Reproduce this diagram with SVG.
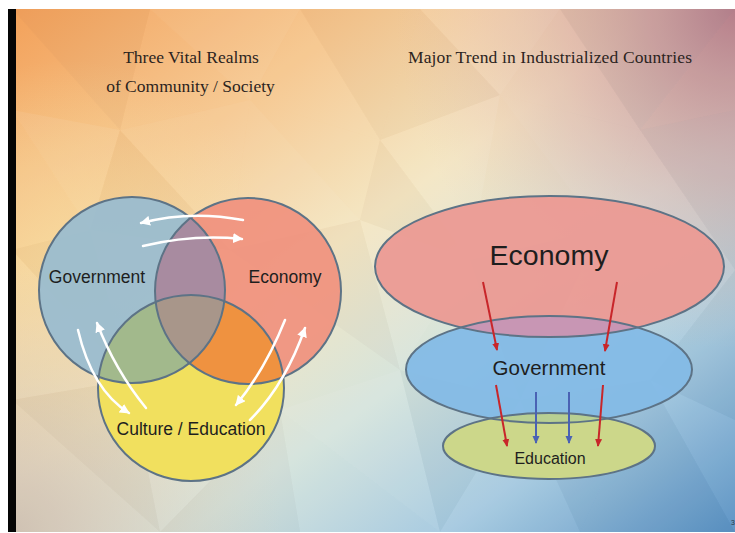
<svg xmlns="http://www.w3.org/2000/svg" width="735" height="533" viewBox="0 0 735 533">
  <style>
    .title { font-family: "Liberation Serif", "DejaVu Serif", serif; font-size: 17.5px; fill: #2c241e; text-anchor: middle; }
    .lbl { font-family: "Liberation Sans", Arial, sans-serif; fill: #1e1e1e; text-anchor: middle; }
    .outline { fill: none; stroke: #5d7386; stroke-width: 2; }
    .w-arrow { fill: none; stroke: #ffffff; stroke-width: 2.5; stroke-linecap: round; marker-end: url(#headWhite); }
    .r-arrow { fill: none; stroke: #c8262a; stroke-width: 2; marker-end: url(#headRed); }
    .b-arrow { fill: none; stroke: #4a62b4; stroke-width: 2; marker-end: url(#headBlue); }
    .f1 { fill: #ffffff; opacity: 0.07; }
    .f2 { fill: #ffffff; opacity: 0.035; }
    .f3 { fill: #5a3a30; opacity: 0.03; }
    .f4 { fill: #2a3a5a; opacity: 0.045; }
  </style>
  <defs>
    <linearGradient id="bgBase" x1="0" y1="0" x2="1" y2="1">
      <stop offset="0" stop-color="#f3a15a"/>
      <stop offset="0.25" stop-color="#f6c890"/>
      <stop offset="0.45" stop-color="#f4e6c2"/>
      <stop offset="0.62" stop-color="#d6e4dc"/>
      <stop offset="0.8" stop-color="#a6cae0"/>
      <stop offset="1" stop-color="#5a92c4"/>
    </linearGradient>
    <radialGradient id="bgMauve" cx="735" cy="9" r="340" gradientUnits="userSpaceOnUse">
      <stop offset="0" stop-color="#b67c8a" stop-opacity="0.95"/>
      <stop offset="0.5" stop-color="#d4a0a0" stop-opacity="0.55"/>
      <stop offset="1" stop-color="#e8c0b0" stop-opacity="0"/>
    </radialGradient>
    <radialGradient id="bgYellow" cx="70" cy="270" r="210" gradientUnits="userSpaceOnUse">
      <stop offset="0" stop-color="#f7dc9c" stop-opacity="0.75"/>
      <stop offset="1" stop-color="#f7dc9c" stop-opacity="0"/>
    </radialGradient>
    <radialGradient id="bgBeige" cx="12" cy="532" r="270" gradientUnits="userSpaceOnUse">
      <stop offset="0" stop-color="#cbbbae" stop-opacity="0.9"/>
      <stop offset="1" stop-color="#d8d0c0" stop-opacity="0"/>
    </radialGradient>

    <marker id="headWhite" markerUnits="userSpaceOnUse" markerWidth="12" markerHeight="10" refX="9" refY="5" orient="auto">
      <path d="M0,0 L10,5 L0,10 Z" fill="#ffffff"/>
    </marker>
    <marker id="headRed" markerUnits="userSpaceOnUse" markerWidth="10" markerHeight="8" refX="7" refY="4" orient="auto">
      <path d="M0,0.5 L8,4 L0,7.5 Z" fill="#c8262a"/>
    </marker>
    <marker id="headBlue" markerUnits="userSpaceOnUse" markerWidth="10" markerHeight="8" refX="7" refY="4" orient="auto">
      <path d="M0,0.5 L8,4 L0,7.5 Z" fill="#4a62b4"/>
    </marker>

    <!-- Venn circle clips -->
    <clipPath id="clipGov"><circle cx="132" cy="290" r="93"/></clipPath>
    <clipPath id="clipEco"><circle cx="248" cy="291" r="93"/></clipPath>
    <clipPath id="clipGovEco" clip-path="url(#clipGov)"><circle cx="248" cy="291" r="93"/></clipPath>

    <!-- stacked ellipse clips -->
    <clipPath id="clipEcoE"><ellipse cx="549.5" cy="266.5" rx="174.5" ry="70.5"/></clipPath>
    <clipPath id="clipGovE"><ellipse cx="549" cy="369.5" rx="143" ry="53.5"/></clipPath>
  </defs>

  <!-- page -->
  <rect x="0" y="0" width="735" height="533" fill="#ffffff"/>

  <!-- slide background: low-poly wash -->
  <g id="background">
    <rect x="12" y="9" width="723" height="523" fill="url(#bgBase)"/>
    <rect x="12" y="9" width="723" height="523" fill="url(#bgYellow)"/>
    <rect x="12" y="9" width="723" height="523" fill="url(#bgMauve)"/>
    <rect x="12" y="9" width="723" height="523" fill="url(#bgBeige)"/>
    <polygon class="f3" points="12,9 150,9 120,130"/>
    <polygon class="f1" points="150,9 300,9 250,100"/>
    <polygon class="f2" points="150,9 250,100 120,130"/>
    <polygon class="f3" points="300,9 420,9 380,140"/>
    <polygon class="f2" points="300,9 380,140 250,100"/>
    <polygon class="f1" points="420,9 560,9 500,95"/>
    <polygon class="f3" points="420,9 500,95 380,140"/>
    <polygon class="f4" points="560,9 735,9 640,130"/>
    <polygon class="f2" points="560,9 640,130 500,95"/>
    <polygon class="f3" points="735,9 735,110 640,130"/>
    <polygon class="f1" points="12,110 120,130 90,230"/>
    <polygon class="f2" points="12,110 90,230 12,250"/>
    <polygon class="f1" points="120,130 250,100 230,250"/>
    <polygon class="f3" points="120,130 230,250 90,230"/>
    <polygon class="f2" points="250,100 380,140 360,220"/>
    <polygon class="f1" points="250,100 360,220 230,250"/>
    <polygon class="f1" points="380,140 500,95 470,260"/>
    <polygon class="f3" points="380,140 470,260 360,220"/>
    <polygon class="f2" points="500,95 640,130 600,230"/>
    <polygon class="f4" points="640,130 735,110 735,270"/>
    <polygon class="f2" points="640,130 735,270 600,230"/>
    <polygon class="f3" points="12,250 90,230 130,380"/>
    <polygon class="f1" points="12,250 130,380 12,400"/>
    <polygon class="f2" points="90,230 230,250 130,380"/>
    <polygon class="f3" points="230,250 360,220 400,370"/>
    <polygon class="f1" points="360,220 470,260 400,370"/>
    <polygon class="f4" points="470,260 600,230 520,400"/>
    <polygon class="f2" points="600,230 735,270 650,380"/>
    <polygon class="f4" points="735,270 735,420 650,380"/>
    <polygon class="f3" points="12,400 130,380 160,532"/>
    <polygon class="f2" points="12,400 160,532 12,532"/>
    <polygon class="f1" points="130,380 280,410 160,532"/>
    <polygon class="f3" points="160,532 280,410 300,532"/>
    <polygon class="f1" points="280,410 400,370 440,532"/>
    <polygon class="f2" points="280,410 440,532 300,532"/>
    <polygon class="f4" points="400,370 520,400 440,532"/>
    <polygon class="f2" points="520,400 580,532 440,532"/>
    <polygon class="f4" points="520,400 650,380 580,532"/>
    <polygon class="f2" points="650,380 735,420 735,532"/>
    <polygon class="f4" points="650,380 735,532 580,532"/>
  </g>
  <rect x="8" y="9" width="8" height="523" fill="#050505"/>

  <!-- headings -->
  <g id="headings">
    <text class="title" x="191" y="63">Three Vital Realms</text>
    <text class="title" x="190.5" y="92">of Community / Society</text>
    <text class="title" x="550" y="63" textLength="284" lengthAdjust="spacing">Major Trend in Industrialized Countries</text>
  </g>

  <!-- three realms Venn -->
  <g id="venn">
    <g id="node-government">
      <circle cx="132" cy="290" r="93" fill="#98bcd0" opacity="0.92"/>
    </g>
    <g id="node-economy">
      <circle cx="248" cy="291" r="93" fill="#f0917e" opacity="0.92"/>
    </g>
    <g id="node-culture">
      <circle cx="191" cy="388" r="93" fill="#f1e05e"/>
    </g>
    <g id="overlaps">
      <circle cx="248" cy="291" r="93" fill="#a88ba0" clip-path="url(#clipGov)"/>
      <circle cx="191" cy="388" r="93" fill="#a2b98c" clip-path="url(#clipGov)"/>
      <circle cx="191" cy="388" r="93" fill="#ef9240" clip-path="url(#clipEco)"/>
      <circle cx="191" cy="388" r="93" fill="#a8968a" clip-path="url(#clipGovEco)"/>
    </g>
    <circle class="outline" cx="132" cy="290" r="93"/>
    <circle class="outline" cx="248" cy="291" r="93"/>
    <circle class="outline" cx="191" cy="388" r="93"/>
    <text class="lbl" x="97" y="283" font-size="17.5">Government</text>
    <text class="lbl" x="285" y="283" font-size="17.5">Economy</text>
    <text class="lbl" x="191" y="435" font-size="17.5">Culture / Education</text>
  </g>

  <!-- stacked realms -->
  <g id="stack">
    <g id="node-economy-big">
      <ellipse cx="549.5" cy="266.5" rx="174.5" ry="70.5" fill="#eb9a94" opacity="0.95"/>
    </g>
    <g id="node-government-mid">
      <ellipse cx="549" cy="369.5" rx="143" ry="53.5" fill="#84bbe6" opacity="0.95"/>
      <ellipse cx="549" cy="369.5" rx="143" ry="53.5" fill="#c896b4" clip-path="url(#clipEcoE)"/>
    </g>
    <g id="node-education">
      <ellipse cx="549" cy="446" rx="106" ry="33" fill="#ccd78a"/>
      <ellipse cx="549" cy="446" rx="106" ry="33" fill="#b8cf92" clip-path="url(#clipGovE)"/>
    </g>
    <ellipse class="outline" cx="549.5" cy="266.5" rx="174.5" ry="70.5"/>
    <ellipse class="outline" cx="549" cy="369.5" rx="143" ry="53.5"/>
    <ellipse class="outline" cx="549" cy="446" rx="106" ry="33"/>
    <text class="lbl" x="549" y="265" font-size="28.5">Economy</text>
    <text class="lbl" x="549" y="375" font-size="20.5">Government</text>
    <text class="lbl" x="550" y="464" font-size="16">Education</text>
  </g>

  <!-- connectors -->
  <g id="connectors">
    <path class="w-arrow" d="M243,220 Q190,210 141,223"/>
    <path class="w-arrow" d="M143,246 Q193,234 242,239"/>
    <path class="w-arrow" d="M78,330 Q92,390 129,413"/>
    <path class="w-arrow" d="M146,408 Q115,370 97,323"/>
    <path class="w-arrow" d="M285,320 Q265,370 236,405"/>
    <path class="w-arrow" d="M250,420 Q285,385 305,328"/>
    <path class="r-arrow" d="M483,282 L497,350"/>
    <path class="r-arrow" d="M617,282 L605,351"/>
    <path class="r-arrow" d="M496,385 L507,446"/>
    <path class="r-arrow" d="M603,385 L598,446"/>
    <path class="b-arrow" d="M536,392 L536,443"/>
    <path class="b-arrow" d="M569,392 L569,443"/>
  </g>

  <text x="731" y="525" font-family="Liberation Sans, Arial, sans-serif" font-size="7" fill="#2a3a4a">3</text>
</svg>
